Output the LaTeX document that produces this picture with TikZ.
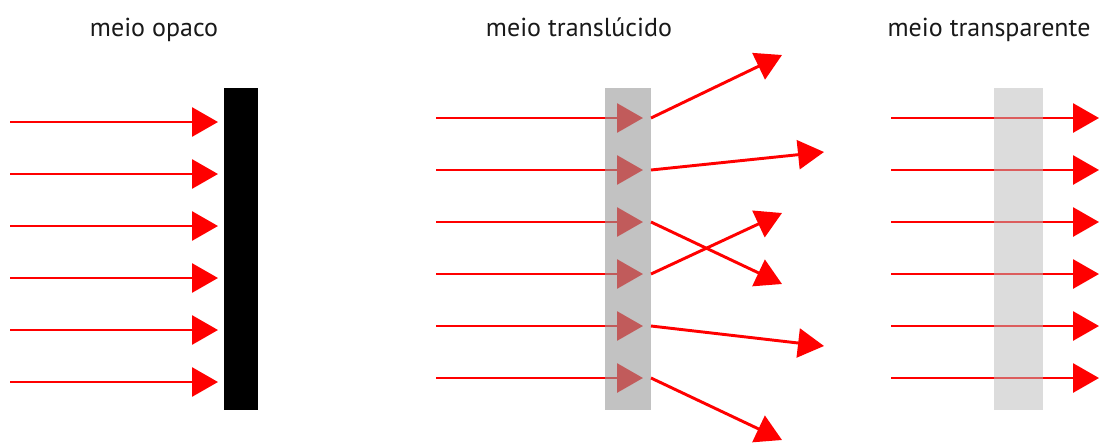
\documentclass[tikz,border=0pt]{standalone}
\usepackage{fontspec}
\setmainfont{PT Sans}
\usetikzlibrary{arrows.meta}

\tikzset{
  raio/.style={red, line width=2.2pt, -{Triangle[length=19.5pt,width=21.75pt]}},
  titulo/.style={anchor=base, font=\fontsize{19.5}{23}\selectfont, text=black!90},
}

\begin{document}
\begin{tikzpicture}[x=0.75pt,y=-0.75pt]
	\useasboundingbox (0,0) rectangle (1110,444);
	% meio opaco
	\node [titulo] (opaco) at (154,36) {meio opaco};
	\foreach \y in {122,174,...,382}
		\draw [raio] (10,\y) -- (218,\y);
	\fill [black] (224,88) rectangle (258,410);
	% meio translucido
	\node [titulo] (translucido) at (579,36) {meio translúcido};
	\foreach \y in {118,170,...,378}
		\draw [raio] (436,\y) -- (643,\y);
	\fill [black!40, opacity=0.6] (605,88) rectangle (651,410);
	\foreach \y/\tx/\ty in {118/782/55, 170/824/152, 222/782/284, 274/782/213, 326/824/346, 378/782/440}
		\draw [raio] (651,\y) -- (\tx,\ty);
	% meio transparente
	\node [titulo] (transparente) at (989,36) {meio transparente};
	\foreach \y in {118,170,...,378}
		\draw [raio] (891,\y) -- (1099,\y);
	\fill [black!27, opacity=0.5] (994,88) rectangle (1043,410);
\end{tikzpicture}
\end{document}
